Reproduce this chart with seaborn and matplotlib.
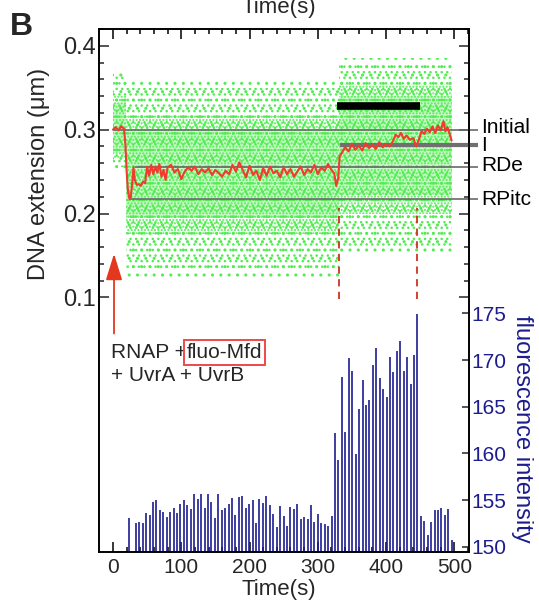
import numpy as np
import matplotlib
matplotlib.use("Agg")
import matplotlib.pyplot as plt
import seaborn as sns
import pandas as pd

# ---------------- data ----------------
# filtered DNA-extension trace (red), time in s, extension in um
red_t = [0, 4, 8, 12, 16, 18, 20, 22, 24, 26, 28, 30, 32, 35, 38, 41, 44, 47, 50, 53,
         56, 59, 62, 65, 68, 71, 74, 77, 80, 85, 90, 95, 100, 105, 110, 115, 120, 125,
         130, 135, 140, 145, 150, 155, 160, 165, 170, 175, 180, 185, 190, 195, 200, 205,
         210, 215, 220, 225, 230, 235, 240, 245, 250, 255, 260, 265, 270, 275, 280, 285,
         290, 295, 300, 305, 310, 315, 320, 324, 327, 330, 332, 335, 340, 345, 350, 355,
         360, 365, 370, 375, 380, 385, 390, 395, 400, 405, 410, 414, 418, 422, 426, 430,
         435, 440, 444, 448, 452, 456, 460, 464, 468, 472, 476, 480, 484, 487, 490, 493, 496]
red_y = [0.300, 0.303, 0.299, 0.304, 0.301, 0.285, 0.250, 0.226, 0.218, 0.219, 0.235, 0.255,
         0.240, 0.234, 0.235, 0.233, 0.238, 0.236, 0.256, 0.245, 0.258, 0.247, 0.256, 0.249,
         0.259, 0.244, 0.252, 0.240, 0.255, 0.258, 0.249, 0.253, 0.241, 0.250, 0.255, 0.251,
         0.256, 0.247, 0.253, 0.249, 0.254, 0.246, 0.252, 0.248, 0.244, 0.251, 0.247, 0.258,
         0.250, 0.261, 0.252, 0.243, 0.257, 0.246, 0.251, 0.240, 0.254, 0.245, 0.256, 0.248,
         0.251, 0.243, 0.255, 0.247, 0.253, 0.244, 0.250, 0.256, 0.246, 0.253, 0.249, 0.258,
         0.247, 0.255, 0.251, 0.259, 0.252, 0.248, 0.233, 0.242, 0.268, 0.272, 0.279, 0.274,
         0.283, 0.276, 0.281, 0.275, 0.284, 0.278, 0.282, 0.277, 0.285, 0.279, 0.283, 0.280,
         0.286, 0.294, 0.291, 0.296, 0.289, 0.293, 0.288, 0.290, 0.280, 0.288, 0.298, 0.295,
         0.301, 0.297, 0.304, 0.296, 0.305, 0.299, 0.310, 0.298, 0.303, 0.295, 0.287]

# raw-data cloud envelope (green), read per segment: halo, sparse, body, dense core
cloud_start = [0, 19, 331]
cloud_end = [19, 331, 497]
cloud_halo_lo = [0.250, 0.120, 0.150]
cloud_halo_hi = [0.370, 0.360, 0.385]
cloud_outer_lo = [0.255, 0.135, 0.160]
cloud_outer_hi = [0.365, 0.350, 0.378]
cloud_inner_lo = [0.265, 0.175, 0.200]
cloud_inner_hi = [0.340, 0.318, 0.355]
cloud_core_lo = [0.272, 0.195, 0.222]
cloud_core_hi = [0.332, 0.300, 0.340]

# reference levels
level_names = ["Initial", "I", "RDe", "RPitc"]
level_values = [0.300, 0.282, 0.256, 0.217]
level_starts = [0, 332, 32, 23]
level_label_y = [0.303, 0.281, 0.257, 0.217]

# Mfd dwell bar and event markers
dwell_start, dwell_end, dwell_level = 328, 450, 0.328
event_times = [331, 446]

# fluorescence intensity, one frame every ~5 s from 23.4 s (frame 2 missing)
fluo_first_time, fluo_last_time = 23.4, 496.3
fluo_intensity = [153.1, np.nan, 152.5, 152.6, 152.5, 153.6, 153.4, 154.8, 155.0, 153.9,
                  153.75, 153.2, 153.7, 154.1, 153.6, 154.6, 155.0, 154.5, 154.0, 155.6,
                  155.1, 155.6, 154.1, 155.6, 154.75, 153.1, 155.6, 153.9, 154.2,
                  154.6, 155.2, 153.4, 155.3, 155.4, 154.1, 154.6, 155.0, 152.5, 155.1,
                  154.7, 155.4, 154.5, 153.5, 152.1, 154.4, 153.25, 152.2, 154.25, 154.0,
                  154.6, 153.0, 153.2, 153.0, 154.5, 152.6, 153.5, 152.5, 152.4, 152.25, 153.3,
                  162.2, 159.3, 168.2, 162.25, 170.2, 168.8, 159.9, 164.75, 167.9, 165.2,
                  165.7, 169.5, 171.3, 168.1, 166.9, 166.1, 170.3, 168.75, 171.0, 172.1,
                  168.8, 170.3, 167.4, 170.6, 174.9, 153.3, 152.8, 151.2, 152.6, 153.9,
                  153.9, 154.1, 153.4, 154.0, 150.7]

x_ticks = [0, 100, 200, 300, 400, 500]
y_ticks = [0.1, 0.2, 0.3, 0.4]
fluo_ticks = [150, 155, 160, 165, 170, 175]

# ---------------- style ----------------
sns.set_theme(style="ticks")
plt.rcParams["font.family"] = ["Liberation Sans", "DejaVu Sans"]
plt.rcParams["hatch.linewidth"] = 1.0

GREEN = "#52ec52"
RED = "#f23a2e"
NAVY = "#1c1c8e"
GRAY = "#6a6a6a"
plt.rcParams["hatch.color"] = GREEN

fig = plt.figure(figsize=(5.39, 6.06), dpi=100)
W, H = 539, 606
ax = fig.add_axes([99 / W, 54 / H, 370 / W, 523 / H])
ax2 = ax.twinx()

ax.set_xlim(-20.5, 521.5)
ax.set_ylim(-0.2036, 0.419)
ax2.set_ylim(149.43, 205.5)

# green cloud (hatched envelope, several densities)
for s, e, lo, hi in zip(cloud_start, cloud_end, cloud_halo_lo, cloud_halo_hi):
    ax.fill_between([s, e], [lo, lo], [hi, hi], facecolor="none", edgecolor=GREEN,
                    hatch="..", linewidth=0, zorder=1)
for s, e, lo, hi in zip(cloud_start, cloud_end, cloud_outer_lo, cloud_outer_hi):
    ax.fill_between([s, e], [lo, lo], [hi, hi], facecolor="none", edgecolor=GREEN,
                    hatch="...", linewidth=0, zorder=1)
for s, e, lo, hi in zip(cloud_start, cloud_end, cloud_inner_lo, cloud_inner_hi):
    ax.fill_between([s, e], [lo, lo], [hi, hi], facecolor="none", edgecolor=GREEN,
                    hatch=".....", linewidth=0, zorder=1)
for s, e, lo, hi in zip(cloud_start, cloud_end, cloud_core_lo, cloud_core_hi):
    ax.fill_between([s, e], [lo, lo], [hi, hi], facecolor=GREEN, alpha=0.30,
                    linewidth=0, zorder=1)

# level lines
for name, val, st, ly in zip(level_names, level_values, level_starts, level_label_y):
    lw = 3.0 if name == "I" else 1.2
    col = "#707070" if name == "I" else GRAY
    ax.plot([st, 535], [val, val], color=col, lw=lw, clip_on=False, zorder=3,
            solid_capstyle="butt")
    ax.text(539, ly, name, fontsize=15, ha="left", va="center", color="black")

# red filtered trace
df = pd.DataFrame({"t": red_t, "ext": red_y})
sns.lineplot(data=df, x="t", y="ext", ax=ax, color=RED, lw=1.5, zorder=4,
             estimator=None, sort=False)

# dwell bar
ax.plot([dwell_start, dwell_end], [dwell_level, dwell_level], color="black", lw=5.5,
        solid_capstyle="butt", zorder=5)

# event dashed lines
ax.vlines(event_times, 0.098, 0.206, colors="#cc3322", linestyles=(0, (4, 3)), lw=1.3,
          zorder=4)

# arrow
ax.annotate("", xy=(1.5, 0.152), xytext=(1.5, 0.057),
            arrowprops=dict(arrowstyle="-|>,head_length=0.9,head_width=0.28",
                            color="#e4371f", lw=1.3, mutation_scale=18,
                            shrinkA=0, shrinkB=0), zorder=5)

# annotation text
ax.text(-3, 0.0274, "RNAP +", fontsize=15, ha="left", va="baseline")
ax.text(108, 0.0274, "fluo-Mfd", fontsize=15, ha="left", va="baseline",
        bbox=dict(boxstyle="square,pad=0.15", facecolor="white", edgecolor="#f04848", lw=1.4))
ax.text(-3, 0.0, "+ UvrA + UvrB", fontsize=15, ha="left", va="baseline")

# fluorescence bars
fl = np.array(fluo_intensity, dtype=float)
ft = np.linspace(fluo_first_time, fluo_last_time, len(fl))
m = ~np.isnan(fl)
ax2.vlines(ft[m], 149.43, fl[m], colors=NAVY, lw=1.2, zorder=2)

# ticks
ax.set_xticks(x_ticks)
ax.set_xticks(np.arange(0, 521, 20), minor=True)
ax.set_yticks(y_ticks)
ax.set_yticks(np.arange(0.1, 0.421, 0.02), minor=True)
ax.tick_params(axis="x", which="both", direction="in", top=True, bottom=True,
               labelsize=15, pad=4, width=1.1, color="black")
ax.tick_params(axis="x", which="major", length=7)
ax.tick_params(axis="x", which="minor", length=3.5)
ax.tick_params(axis="y", which="both", direction="in", left=True, right=True,
               labelsize=17, pad=2, width=1.1)
ax.tick_params(axis="y", which="major", length=7)
ax.tick_params(axis="y", which="minor", length=3.5)
ax.yaxis.set_major_formatter(matplotlib.ticker.FormatStrFormatter("%.1f"))

ax2.set_yticks(fluo_ticks)
ax2.tick_params(axis="y", direction="in", length=5, width=1.1, labelsize=15,
                labelcolor=NAVY, pad=1.5)
ax.set_xlabel("")
ax.set_ylabel("")
ax2.set_ylabel("")

for a in (ax, ax2):
    for sp in a.spines.values():
        sp.set_linewidth(1.2)
        sp.set_color("black")
        sp.set_visible(True)

# labels
fig.text(39 / W, 1 - 174 / H, "DNA extension (μm)", rotation=90, fontsize=17,
         ha="center", va="center")
fig.text(522 / W, 1 - 429 / H, "fluorescence intensity", rotation=-90, fontsize=17,
         ha="center", va="center", color=NAVY)
fig.text(279 / W, 1 - 589 / H, "Time(s)", fontsize=16, ha="center", va="center")
fig.text(279 / W, 1 - 12.5 / H, "Time(s)", fontsize=16, ha="center", va="baseline")
fig.text(10 / W, 1 - 35 / H, "B", fontsize=23, fontweight="bold", ha="left", va="baseline")

fig.savefig("out.png", dpi=100)
